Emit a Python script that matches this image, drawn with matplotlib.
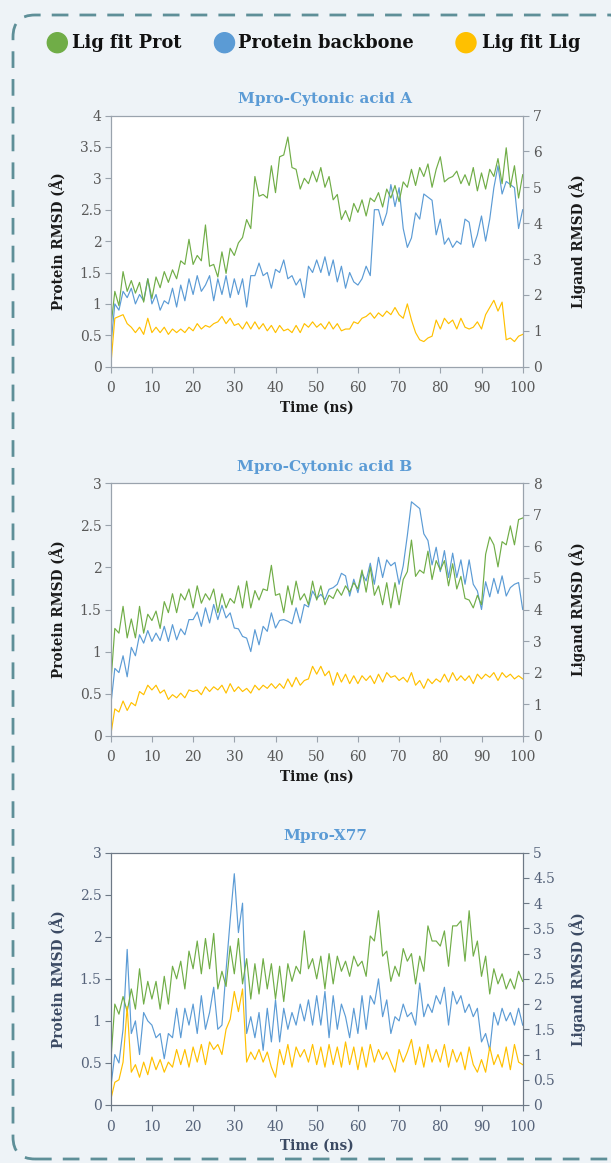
import numpy as np
import matplotlib.pyplot as plt
from matplotlib.patches import FancyBboxPatch, Ellipse

# colors
green = '#70ad47'
blue = '#5b9bd5'
yellow = '#ffc000'
bg = '#eef3f7'

t = np.arange(0, 101)

# Mpro-Cytonic acid A  (prot -> left axis, lig fits -> right axis)
a_prot = [0.3,1.0,0.9,1.2,1.1,1.25,1.0,1.15,1.05,1.4,1.0,1.15,0.9,1.05,1.0,1.25,0.95,1.3,1.05,1.4,
          1.15,1.45,1.2,1.3,1.45,1.05,1.4,1.15,1.45,1.1,1.4,1.15,1.4,0.95,1.45,1.45,1.65,1.45,1.5,1.25,
          1.55,1.5,1.7,1.4,1.45,1.3,1.4,1.1,1.6,1.5,1.7,1.5,1.75,1.45,1.7,1.35,1.6,1.25,1.5,1.35,
          1.3,1.4,1.6,1.45,2.5,2.5,2.25,2.45,2.9,2.55,2.85,2.2,1.9,2.05,2.45,2.35,2.75,2.7,2.65,2.1,
          2.35,1.95,2.05,1.9,2.0,1.95,2.35,2.3,1.9,2.1,2.4,2.0,2.35,2.85,3.2,2.75,2.95,2.9,2.85,2.2,2.5]
a_ligprot = [1.05,2.1,1.7,2.65,2.1,2.4,2.05,2.35,1.8,2.45,1.9,2.5,2.2,2.65,2.35,2.7,2.45,2.95,2.85,3.55,
             2.85,3.1,2.95,3.95,2.8,2.85,2.5,3.2,2.6,3.3,3.1,3.45,3.6,4.1,3.85,5.3,4.75,4.8,4.7,5.6,
             4.85,5.85,5.9,6.4,5.55,5.5,4.95,5.25,5.1,5.45,5.15,5.55,5.0,5.3,4.65,4.8,4.1,4.35,4.05,4.55,
             4.3,4.65,4.2,4.7,4.6,4.85,4.45,4.95,4.7,5.05,4.6,5.15,5.0,5.5,5.05,5.55,5.3,5.65,5.0,5.5,
             5.85,5.15,5.25,5.3,5.45,5.1,5.35,5.05,5.55,4.9,5.4,4.95,5.5,5.3,5.8,5.1,6.1,5.0,5.6,4.7,5.35]
a_liglig = [0.0,1.35,1.4,1.45,1.2,1.1,0.95,1.1,0.9,1.35,0.95,1.1,0.95,1.1,0.9,1.05,0.95,1.05,0.95,1.1,
            1.0,1.2,1.05,1.15,1.1,1.2,1.25,1.4,1.2,1.35,1.15,1.2,1.05,1.25,1.05,1.25,1.05,1.2,1.0,1.15,
            0.95,1.15,1.0,1.05,0.95,1.15,0.95,1.2,1.1,1.25,1.1,1.2,1.05,1.25,1.05,1.2,1.0,1.05,1.05,1.25,
            1.2,1.35,1.4,1.5,1.35,1.5,1.4,1.55,1.45,1.65,1.45,1.35,1.75,1.3,0.95,0.75,0.7,0.8,0.85,1.3,
            1.05,1.35,1.2,1.3,1.05,1.35,1.1,1.05,1.1,1.25,1.05,1.45,1.65,1.85,1.55,1.8,0.75,0.8,0.7,0.85,0.9]

# Mpro-Cytonic acid B
b_prot = [0.35,0.8,0.75,0.95,0.7,1.05,0.95,1.2,1.1,1.25,1.12,1.22,1.13,1.3,1.12,1.32,1.14,1.27,1.2,1.38,
          1.38,1.47,1.3,1.52,1.34,1.56,1.38,1.55,1.4,1.46,1.28,1.27,1.18,1.16,1.0,1.26,1.08,1.3,1.24,1.46,
          1.28,1.37,1.38,1.36,1.33,1.52,1.34,1.56,1.53,1.72,1.63,1.68,1.62,1.74,1.76,1.8,1.93,1.9,1.66,1.86,
          1.7,1.93,1.84,2.05,1.8,2.12,1.88,2.09,2.02,2.06,1.8,2.02,2.38,2.78,2.74,2.7,2.4,2.32,2.03,2.24,
          1.95,2.2,1.88,2.17,1.88,2.09,1.8,2.09,1.8,1.72,1.5,1.83,1.65,1.87,1.69,1.9,1.66,1.76,1.8,1.82,1.5]
b_ligprot = [1.6,3.4,3.25,4.1,3.1,3.7,3.1,4.1,3.25,3.85,3.65,3.95,3.4,4.25,3.9,4.5,3.9,4.5,4.3,4.65,
             4.05,4.75,4.2,4.5,4.3,4.65,3.9,4.5,4.05,4.35,4.2,4.75,4.05,4.9,4.05,4.6,4.3,4.65,4.6,5.4,
             4.45,4.5,3.9,4.75,4.15,4.9,4.3,4.5,4.15,4.9,4.3,4.75,4.15,4.45,4.35,4.65,4.45,4.75,4.55,4.85,
             4.65,5.25,4.55,5.35,4.45,4.75,4.15,4.85,4.05,4.85,4.15,4.95,5.2,6.2,5.05,5.25,5.15,5.85,4.95,5.55,
             5.25,5.55,4.75,5.45,4.65,5.05,4.35,4.3,4.05,4.45,4.15,5.75,6.3,6.05,5.35,6.15,6.05,6.65,6.05,6.85,6.9]
b_liglig = [0.0,0.85,0.75,1.1,0.8,1.05,0.95,1.4,1.3,1.6,1.45,1.6,1.35,1.45,1.15,1.3,1.2,1.35,1.2,1.45,
            1.4,1.45,1.3,1.55,1.4,1.55,1.45,1.6,1.35,1.65,1.4,1.55,1.4,1.5,1.35,1.6,1.45,1.6,1.5,1.65,
            1.5,1.65,1.5,1.8,1.55,1.85,1.6,1.75,1.8,2.2,1.95,2.2,1.9,2.05,1.6,2.0,1.7,1.95,1.65,1.9,
            1.65,1.9,1.75,1.9,1.65,1.95,1.7,2.0,1.85,1.9,1.75,1.85,1.7,2.0,1.6,1.75,1.5,1.8,1.65,1.8,
            1.7,1.95,1.7,2.0,1.75,1.9,1.75,1.9,1.65,1.95,1.8,1.95,1.85,2.0,1.75,2.0,1.85,1.95,1.8,1.9,1.8]

# Mpro-X77
c_prot = [0.2,0.6,0.5,0.9,1.85,0.85,1.0,0.6,1.1,1.0,0.95,0.8,0.85,0.55,0.85,0.8,1.15,0.8,1.15,0.95,
          1.2,0.85,1.3,0.9,1.1,1.4,0.9,0.95,1.6,2.2,2.75,2.05,2.4,0.85,1.05,0.8,1.1,0.65,1.15,0.75,
          1.25,0.75,1.15,0.9,1.1,0.95,1.2,1.0,1.25,0.95,1.3,0.95,1.35,0.8,1.3,0.9,1.2,1.05,0.8,1.15,
          0.85,1.3,0.9,1.3,1.2,1.5,1.05,1.25,0.85,1.05,1.0,1.2,1.05,1.1,0.95,1.45,1.05,1.2,1.1,1.3,
          1.2,1.4,0.95,1.35,1.2,1.3,1.1,1.2,1.05,1.15,0.75,0.85,0.65,1.1,0.95,1.15,1.0,1.1,0.95,1.15,0.95]
c_ligprot = [0.83,2.0,1.8,2.15,1.85,2.3,1.9,2.7,2.0,2.45,2.1,2.45,1.9,2.55,2.0,2.75,2.5,2.85,2.3,3.05,
             2.7,3.25,2.6,3.3,2.7,3.4,2.3,2.65,2.35,3.15,2.6,3.3,2.4,2.9,2.1,2.8,2.2,2.9,2.3,2.8,
             2.1,2.75,2.05,2.8,2.45,2.75,2.6,3.45,2.7,2.9,2.5,2.95,2.3,3.0,2.4,2.95,2.65,2.85,2.55,2.95,
             2.75,2.85,2.55,3.35,3.25,3.85,2.95,3.05,2.45,2.75,2.55,3.1,2.85,3.0,2.4,2.95,2.65,3.55,3.25,3.25,
             3.15,3.45,2.75,3.55,3.55,3.65,2.85,3.85,2.95,3.25,2.55,2.95,2.2,2.7,2.4,2.6,2.3,2.5,2.3,2.65,2.45]
c_liglig = [0.1,0.45,0.5,0.85,1.95,0.65,0.8,0.55,0.85,0.6,0.95,0.7,0.9,0.65,0.85,0.75,1.1,0.8,1.1,0.75,
            1.15,0.85,1.2,0.8,1.25,1.1,1.2,1.0,1.5,1.7,2.25,1.85,2.3,0.85,1.05,0.9,1.1,0.85,1.05,0.75,
            0.55,1.1,0.8,1.2,0.75,1.15,0.95,1.1,0.85,1.2,0.8,1.15,0.75,1.2,0.8,1.15,0.75,1.25,0.8,1.15,
            0.7,1.15,0.75,1.2,0.85,1.1,0.9,1.05,0.85,0.65,1.1,0.85,1.05,1.3,0.8,1.15,0.75,1.2,0.85,1.1,
            0.85,1.2,0.75,1.1,0.85,1.05,0.7,1.15,0.8,0.65,0.9,0.65,1.15,0.8,1.0,0.75,1.15,0.7,1.2,0.85,0.8]

titles = ['Mpro-Cytonic acid A', 'Mpro-Cytonic acid B', 'Mpro-X77']
left_lims = [4, 3, 3]
right_lims = [7, 8, 5]
left_ticks = [np.arange(0, 4.01, 0.5), np.arange(0, 3.01, 0.5), np.arange(0, 3.01, 0.5)]
right_ticks = [np.arange(0, 8), np.arange(0, 9), np.arange(0, 5.01, 0.5)]
prot = [a_prot, b_prot, c_prot]
ligprot = [a_ligprot, b_ligprot, c_ligprot]
liglig = [a_liglig, b_liglig, c_liglig]

plt.rcParams['font.family'] = 'DejaVu Serif'

W, H = 611, 1163
fig = plt.figure(figsize=(W / 100, H / 100), dpi=100, facecolor=bg)

# dashed rounded frame (pixel coords, origin bottom-left)
frame = FancyBboxPatch((13, 4), 620, 1144, boxstyle='round,pad=0,rounding_size=22',
                       transform=None, fill=False, edgecolor='#5e8f98', lw=2,
                       linestyle=(0, (6, 4)))
fig.patches.append(frame)

# legend
leg = [(57.3, 72, 'Lig fit Prot', green), (224.5, 238, 'Protein backbone', blue),
       (466, 482, 'Lig fit Lig', yellow)]
ly = 1 - 42.7 / H
for cx, tx, lab, c in leg:
    fig.patches.append(Ellipse((cx / W, ly), 20 / W, 20 / H, transform=fig.transFigure, color=c))
    fig.text(tx / W, ly, lab, fontsize=12.8, fontweight='bold', va='center', ha='left',
             color='#111111')

# axes boxes in pixels: top, bottom
tops = [115.5, 483.3, 852.7]
bots = [366.7, 735.7, 1105]
x0, x1 = 110.7, 522.7
lab_col = ['#1a1a1a', '#1a1a1a', '#3b4a63']
tick_col = ['#595959', '#595959', '#56637a']
spine_col = ['#9aa3ad', '#9aa3ad', '#6e7986']

for i in range(3):
    ax = fig.add_axes([x0 / W, 1 - bots[i] / H, (x1 - x0) / W, (bots[i] - tops[i]) / H])
    ax2 = ax.twinx()
    ax.plot(t, prot[i], color=blue, lw=0.85)
    ax2.plot(t, ligprot[i], color=green, lw=0.85)
    ax2.plot(t, liglig[i], color=yellow, lw=0.85)

    ax.set_xlim(0, 100)
    ax.set_ylim(0, left_lims[i])
    ax2.set_ylim(0, right_lims[i])
    ax.set_xticks(np.arange(0, 101, 10))
    ax.set_yticks(left_ticks[i])
    ax.set_yticklabels(['%g' % v for v in left_ticks[i]])
    ax2.set_yticks(right_ticks[i])
    ax2.set_yticklabels(['%g' % v for v in right_ticks[i]])

    ax.set_title(titles[i], color=blue, fontweight='bold', fontsize=11, pad=9,
                 x=(325 - x0) / (x1 - x0))
    ax.set_xlabel('Time (ns)', fontweight='bold', fontsize=9.8, color=lab_col[i], labelpad=4)
    ax.set_ylabel('Protein RMSD (Å)', fontweight='bold', fontsize=9.8, color=lab_col[i],
                  va='center')
    ax.yaxis.set_label_coords((58.8 - x0) / (x1 - x0), 0.5)
    ax2.set_ylabel('Ligand RMSD (Å)', fontweight='bold', fontsize=9.8, color=lab_col[i],
                   va='center')
    ax2.yaxis.set_label_coords((577.5 - x0) / (x1 - x0), 0.5)

    for a in (ax, ax2):
        for s in a.spines.values():
            s.set_color(spine_col[i])
        a.tick_params(colors=spine_col[i], labelcolor=tick_col[i], labelsize=10, length=4)
    ax.tick_params(axis='x', pad=6.5)
    ax.tick_params(axis='y', pad=2.5)
    ax2.tick_params(axis='y', pad=3.5)
    ax.set_facecolor('white')

fig.savefig('out.png', dpi=100, facecolor=bg)
